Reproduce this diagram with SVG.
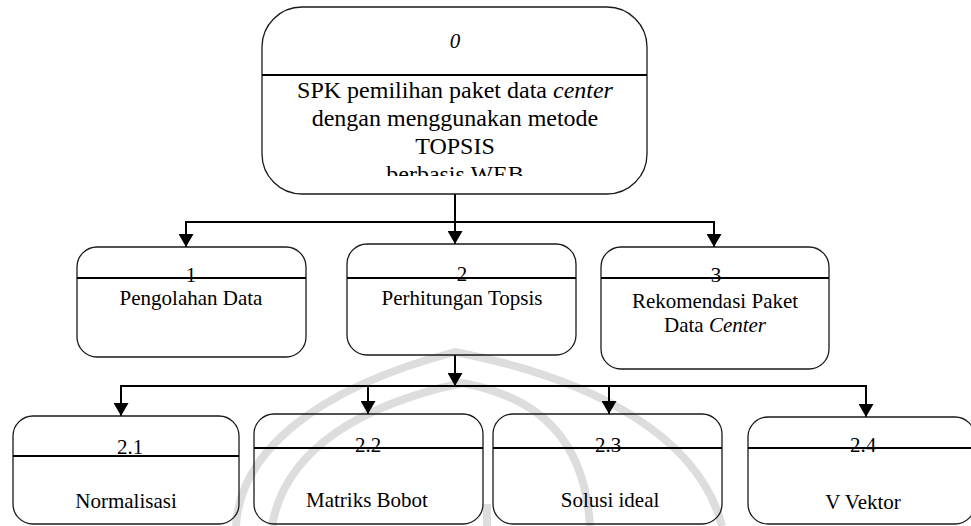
<svg xmlns="http://www.w3.org/2000/svg" width="971" height="526" viewBox="0 0 971 526">
  <style>
    .box { fill: none; stroke: #1a1a1a; stroke-width: 1.3; }
    .div { stroke: #000000; stroke-width: 2; }
    .t { font-family: "Liberation Serif", "DejaVu Serif", serif; fill: #000000; text-anchor: middle; }
    .big { font-size: 24px; }
    .mid { font-size: 21px; }
    .num { font-size: 21px; }
    .wire { fill: none; stroke: #000000; stroke-width: 2; }
    .wm { fill: none; stroke: #dddddd; stroke-width: 8; stroke-linecap: butt; }
  </style>
  <defs>
    <marker id="arrow" viewBox="0 0 13 15" refX="13" refY="7.5" markerWidth="13" markerHeight="15" markerUnits="userSpaceOnUse" orient="auto">
      <path d="M0,0 L13,7.5 L0,15 z" fill="#000000"/>
    </marker>
    <clipPath id="clip0">
      <rect x="262" y="76" width="385" height="100"/>
    </clipPath>
  </defs>

  <rect width="971" height="526" fill="#ffffff"/>

  <!-- faint background emblem: two nested pointed arches -->
  <g id="watermark">
    <path class="wm" d="M236,526 C240,455 310,390 455,352 C600,380 700,440 722,526"/>
    <path class="wm" d="M272,526 C285,450 360,405 462,383 C545,398 585,445 590,526"/>
    <path class="wm" d="M487,504 L487,526"/>
  </g>

  <g id="connectors">
    <line class="wire" x1="455" y1="194" x2="455" y2="244" marker-end="url(#arrow)"/>
    <polyline class="wire" points="455,222 186,222 186,247" marker-end="url(#arrow)"/>
    <polyline class="wire" points="455,222 714,222 714,247" marker-end="url(#arrow)"/>
    <line class="wire" x1="455" y1="355" x2="455" y2="386" marker-end="url(#arrow)"/>
    <polyline class="wire" points="455,386 121,386 121,416" marker-end="url(#arrow)"/>
    <polyline class="wire" points="368,386 368,414" marker-end="url(#arrow)"/>
    <polyline class="wire" points="609,386 609,414" marker-end="url(#arrow)"/>
    <polyline class="wire" points="455,386 866,386 866,417" marker-end="url(#arrow)"/>
  </g>

  <g id="node-0">
    <rect class="box" x="262" y="7" width="385" height="187" rx="40" ry="40"/>
    <line class="div" x1="262" y1="75" x2="647" y2="75"/>
    <text class="t num" x="455" y="48" font-style="italic">0</text>
    <g clip-path="url(#clip0)">
      <text class="t big" x="455" y="98">SPK pemilihan paket data <tspan font-style="italic">center</tspan></text>
      <text class="t big" x="455" y="126">dengan menggunakan metode</text>
      <text class="t big" x="455" y="154">TOPSIS</text>
      <text class="t big" x="455" y="182">berbasis WEB</text>
    </g>
  </g>

  <g id="node-1">
    <rect class="box" x="77" y="247" width="229" height="110" rx="20" ry="20"/>
    <line class="div" x1="77" y1="278" x2="306" y2="278"/>
    <text class="t num" x="191" y="282">1</text>
    <text class="t mid" x="191" y="305">Pengolahan Data</text>
  </g>

  <g id="node-2">
    <rect class="box" x="347" y="244" width="229" height="111" rx="20" ry="20"/>
    <line class="div" x1="347" y1="278" x2="576" y2="278"/>
    <text class="t num" x="462" y="281">2</text>
    <text class="t mid" x="462" y="305">Perhitungan Topsis</text>
  </g>

  <g id="node-3">
    <rect class="box" x="601" y="247" width="228" height="122" rx="20" ry="20"/>
    <line class="div" x1="601" y1="278" x2="829" y2="278"/>
    <text class="t num" x="716" y="282">3</text>
    <text class="t mid" x="715" y="308">Rekomendasi Paket</text>
    <text class="t mid" x="715" y="332">Data <tspan font-style="italic">Center</tspan></text>
  </g>

  <g id="node-2-1">
    <rect class="box" x="13" y="416" width="226" height="108" rx="20" ry="20"/>
    <line class="div" x1="13" y1="456" x2="239" y2="456"/>
    <text class="t num" x="130" y="454">2.1</text>
    <text class="t mid" x="126" y="508">Normalisasi</text>
  </g>

  <g id="node-2-2">
    <rect class="box" x="254" y="414" width="229" height="110" rx="20" ry="20"/>
    <line class="div" x1="254" y1="448" x2="483" y2="448"/>
    <text class="t num" x="368" y="452">2.2</text>
    <text class="t mid" x="367" y="507">Matriks Bobot</text>
  </g>

  <g id="node-2-3">
    <rect class="box" x="493" y="414" width="229" height="110" rx="20" ry="20"/>
    <line class="div" x1="493" y1="448" x2="722" y2="448"/>
    <text class="t num" x="608" y="452">2.3</text>
    <text class="t mid" x="610" y="507">Solusi ideal</text>
  </g>

  <g id="node-2-4">
    <rect class="box" x="748" y="417" width="227" height="107" rx="20" ry="20"/>
    <line class="div" x1="748" y1="448" x2="975" y2="448"/>
    <text class="t num" x="863" y="452">2.4</text>
    <text class="t mid" x="863" y="509">V Vektor</text>
  </g>
</svg>
